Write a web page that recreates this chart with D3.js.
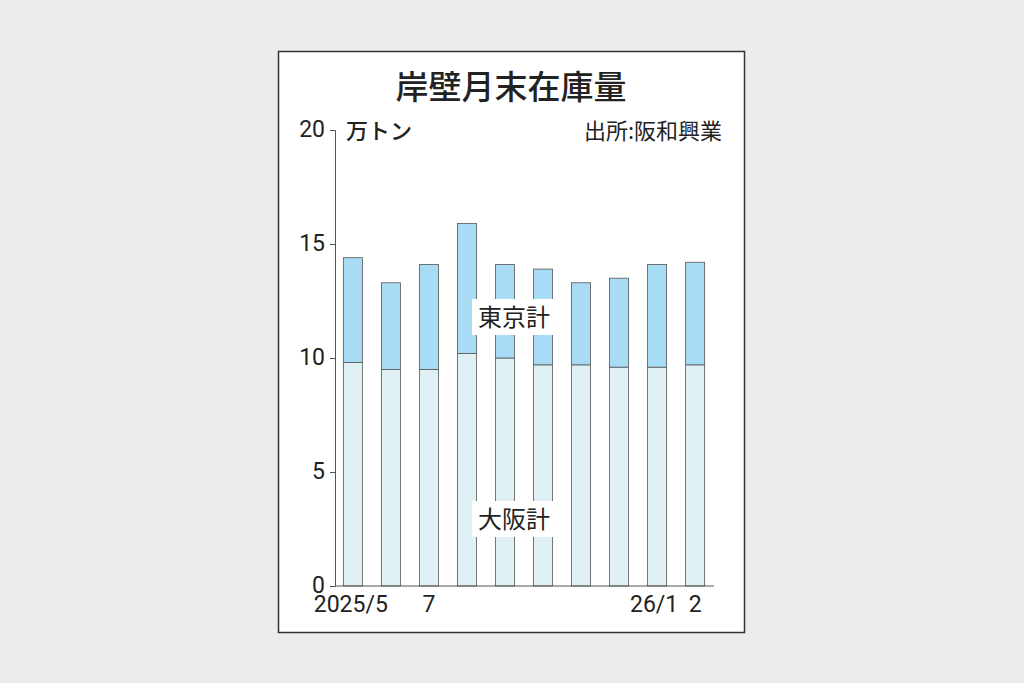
<!DOCTYPE html>
<html><head><meta charset="utf-8">
<script src="https://cdn.jsdelivr.net/npm/d3@7"></script>
<style>body{margin:0;background:#ececec;font-family:"Noto Sans CJK JP",sans-serif;}</style>
</head><body><div id="chart"></div>
<script>
// data
const months = ["2025/5", "6", "7", "8", "9", "10", "11", "12", "26/1", "2"];
const monthLabels = ["2025/5", "", "7", "", "", "", "", "", "26/1", "2"];
const osaka = [9.8, 9.5, 9.5, 10.2, 10.0, 9.7, 9.7, 9.6, 9.6, 9.7];
const total = [14.4, 13.3, 14.1, 15.9, 14.1, 13.9, 13.3, 13.5, 14.1, 14.2];
const yTicks = [0, 5, 10, 15, 20];

const svg = d3.select("#chart").append("svg").attr("width", 1024).attr("height", 683);
svg.append("rect").attr("x", 278.5).attr("y", 51.5).attr("width", 466).attr("height", 581)
  .attr("fill", "#fff").attr("stroke", "#333").attr("stroke-width", 1.5);

const x = d3.scaleBand().domain(months).range([335, 713]).paddingInner(0.5).paddingOuter(0.22);
const y = d3.scaleLinear().domain([0, 20]).range([586, 130]);

const g = svg.append("g");
g.selectAll(".osaka").data(months).enter().append("rect")
  .attr("x", d => x(d)).attr("width", x.bandwidth())
  .attr("y", (d, i) => y(osaka[i])).attr("height", (d, i) => y(0) - y(osaka[i]))
  .attr("fill", "#dff1f5").attr("stroke", "#555").attr("stroke-width", 0.8);
g.selectAll(".tokyo").data(months).enter().append("rect")
  .attr("x", d => x(d)).attr("width", x.bandwidth())
  .attr("y", (d, i) => y(total[i])).attr("height", (d, i) => y(osaka[i]) - y(total[i]))
  .attr("fill", "#a8dcf5").attr("stroke", "#555").attr("stroke-width", 0.8);

// y axis
const ya = svg.append("g").attr("transform", "translate(335,0)")
  .call(d3.axisLeft(y).tickValues(yTicks).tickSize(5).tickPadding(5));
ya.select(".domain").attr("stroke", "#555");
ya.selectAll("line").attr("stroke", "#555");
ya.selectAll("text").attr("font-size", 23).attr("fill", "#222").attr("font-family", "Roboto, sans-serif")
  .attr("dy", "0.3em");

// x axis
const xa = svg.append("g").attr("transform", "translate(0,586)")
  .call(d3.axisBottom(x).tickSize(0).tickPadding(10).tickFormat((d, i) => monthLabels[i]));
xa.select(".domain").attr("stroke", "#555").attr("d", "M335,0H714");
xa.selectAll("text").attr("font-size", 23).attr("fill", "#222").attr("font-family", "Roboto, sans-serif");
xa.selectAll(".tick").filter(d => d === "2025/5").select("text").attr("text-anchor", "end").attr("dx", 35);
xa.selectAll(".tick").filter(d => d === "26/1").select("text").attr("dx", -3);

svg.append("text").attr("x", 511).attr("y", 99).attr("text-anchor", "middle")
  .attr("font-size", 33).attr("font-weight", 500).attr("fill", "#222").text("岸壁月末在庫量");
svg.append("text").attr("x", 346).attr("y", 139).attr("font-size", 22).attr("font-weight", 500).attr("fill", "#222").text("万トン");
svg.append("text").attr("x", 722).attr("y", 139).attr("text-anchor", "end").attr("font-size", 22).attr("fill", "#222").text("出所:阪和興業");

function label(t, cx, cy) {
  svg.append("rect").attr("x", cx - 42).attr("y", cy - 18).attr("width", 84).attr("height", 36).attr("fill", "#fff");
  svg.append("text").attr("x", cx).attr("y", cy + 9).attr("text-anchor", "middle").attr("font-size", 24).attr("fill", "#222").text(t);
}
label("東京計", 514, 317);
label("大阪計", 514, 519);
</script></body></html>
